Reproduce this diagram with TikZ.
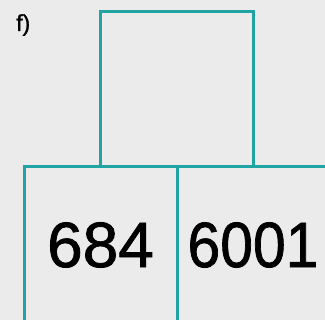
\documentclass[tikz,border=0pt]{standalone}
\usepackage{fontspec}
\setmainfont{Liberation Sans}
\newfontfamily\heavyfont[FakeBold=1.2]{Liberation Sans}
\begin{document}
\begin{tikzpicture}[x=1pt,y=-1pt,
  edge/.style={draw=boxteal,line width=3pt},
  num/.style={font=\heavyfont\fontsize{64}{66}\selectfont, text=black, inner sep=0pt}]
\definecolor{boxteal}{HTML}{1FA3A3}
\definecolor{bg}{HTML}{EBEBEB}
\fill[bg] (0,0) rectangle (325,320);
\useasboundingbox (0,0) rectangle (325,320);
\node[anchor=base west, inner sep=0pt, font=\heavyfont\fontsize{23}{24}\selectfont] (lbl) at (16,31) {f)};
\coordinate (tl) at (101,12);
\coordinate (br) at (254,167);
\draw[edge] (101,167) -- (tl) -- (254,12) -- (br);
\draw[edge] (24.5,330) -- (24.5,167) -- (330,167);
\draw[edge] (177.5,167) -- (177.5,330);
\node[num] (a) at (100.5,245) {684};
\node[num, xscale=0.92] (b) at (253,245) {6001};
\end{tikzpicture}
\end{document}
